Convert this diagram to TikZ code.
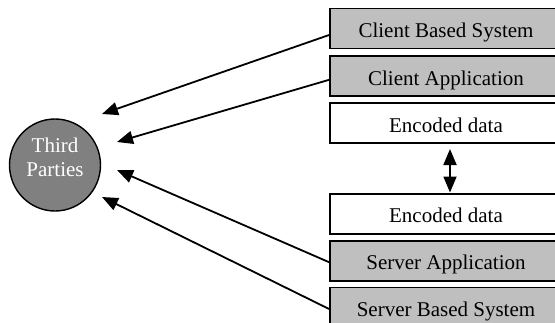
\documentclass[tikz,border=0pt]{standalone}
\usepackage{fontspec}
\setmainfont{Liberation Serif}
\usetikzlibrary{shapes.geometric, positioning, arrows.meta}
\tikzset{
    x=1pt, y=-1pt, % coordinates in points, y running downwards
    layer/.style={draw, line width=1.8pt, fill=gray!50, minimum width=232pt, minimum height=40pt, inner sep=0pt, text height=18pt, text depth=0pt}, % the stacked boxes
    data/.style={layer, fill=white}, % the boxes holding the encoded data
    party/.style={ellipse, draw, line width=1.4pt, fill=gray, minimum width=91pt, minimum height=92pt}, % the third parties
    flow/.style={-{Triangle[length=16pt,width=13pt]}, line width=1.8pt}, % makes the edges directed
    exchange/.style={{Triangle[length=16pt,width=13pt]}-{Triangle[length=16pt,width=13pt]}, line width=1.8pt}, % both ways
    node distance=5pt, % gap between the stacked boxes
}

\begin{document}
\begin{tikzpicture}[font=\fontsize{21}{24}\selectfont]
    \clip (0,0) rectangle (555,322);
    \node[layer] (cbs) at (446,28.5) {Client Based System};
    \node[layer, below=6pt of cbs] (capp) {Client Application};
    \node[data, below=of capp] (enc1) {Encoded data};
    \node[data, below=49pt of enc1] (enc2) {Encoded data};
    \node[layer, below=of enc2] (sapp) {Server Application};
    \node[layer, below=of sapp] (sbs) {Server Based System};

    \node[party] (tp) at (55,165) {};
    \node[text=white, align=center] (tpname) at ([yshift=8pt]tp.center) {Third\\Parties};

    \coordinate (in1) at ([shift={(47,-51)}]tp.center);
    \coordinate (in2) at ([shift={(62,-23)}]tp.center);
    \coordinate (in3) at ([shift={(62,5)}]tp.center);
    \coordinate (in4) at ([shift={(47,32)}]tp.center);

    \draw[flow] ([yshift=-6.5pt]cbs.west) -- (in1);
    \draw[flow] ([yshift=-3.5pt]capp.west) -- (in2);
    \draw[flow] ([yshift=-1.5pt]sapp.west) -- (in3);
    \draw[flow] ([yshift=-1.5pt]sbs.west) -- (in4);
    \draw[exchange, shorten <=5pt, shorten >=0.5pt] ([xshift=4pt]enc1.south) -- ([xshift=4pt]enc2.north);
\end{tikzpicture}
\end{document}
